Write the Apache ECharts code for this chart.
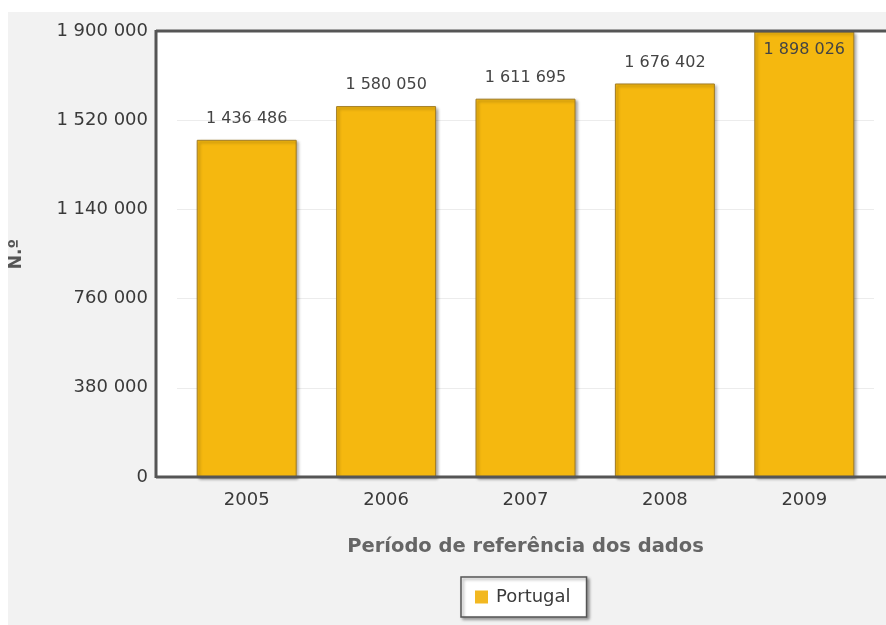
<!DOCTYPE html>
<html><head><meta charset="utf-8">
<script src="https://cdn.jsdelivr.net/npm/echarts@6/dist/echarts.min.js"></script>
<style>html,body{margin:0;padding:0;background:#fff}#c{width:886px;height:625px}</style>
</head><body><div id="c"></div>
<script>
const categories = ['2005','2006','2007','2008','2009'];
const portugal = [1436486, 1580050, 1611695, 1676402, 1898026];
const yTicks = [0, 380000, 760000, 1140000, 1520000, 1900000];
const seriesName = 'Portugal';
const xTitle = 'Período de referência dos dados';
const yTitle = 'N.º';

function fmt(v){ return String(v).replace(/\B(?=(\d{3})+(?!\d))/g, ' '); }

const chart = echarts.init(document.getElementById('c'));
const FONT = '"DejaVu Sans", Verdana, sans-serif';
const yMax = yTicks[yTicks.length-1];
const lastIdx = portugal.length-1;
chart.setOption({
  animation:false,
  textStyle:{fontFamily:FONT},
  graphic:[
    {type:'rect', z:-10, silent:true, shape:{x:8,y:12,width:878,height:613}, style:{fill:'#f2f2f2'}},
    {type:'rect', z:-9, silent:true, shape:{x:156,y:31,width:730,height:446}, style:{fill:'#ffffff'}},
    {type:'line', z:5, silent:true, shape:{x1:156,y1:31,x2:886,y2:31}, style:{stroke:'#555',lineWidth:3}},
    {type:'line', z:5, silent:true, shape:{x1:156,y1:30,x2:156,y2:478}, style:{stroke:'#555',lineWidth:3}},
    {type:'line', z:5, silent:true, shape:{x1:156,y1:477,x2:886,y2:477}, style:{stroke:'#555',lineWidth:3}}
  ],
  grid:{left:176, right:12, top:31, bottom:148},
  legend:{
    data:[seriesName], top:577, left:461,
    itemWidth:13, itemHeight:13, icon:'rect',
    itemStyle:{borderWidth:0, color:'#f2b821'},
    backgroundColor:'#fff', borderColor:'#555', borderWidth:1.5, borderRadius:0,
    padding:[11,16,11,14], itemGap:8,
    shadowColor:'rgba(0,0,0,0.35)', shadowBlur:3, shadowOffsetX:2, shadowOffsetY:2,
    textStyle:{fontSize:18, color:'#3a3a3a', fontFamily:FONT, padding:[0,0,0,3]}
  },
  xAxis:{
    type:'category', data:categories,
    axisLine:{show:false}, axisTick:{show:false},
    axisLabel:{fontSize:18, color:'#3a3a3a', margin:14, fontFamily:FONT},
    name:xTitle, nameLocation:'middle', nameGap:60,
    nameTextStyle:{fontSize:19.5, fontWeight:'bold', color:'#666', fontFamily:FONT}
  },
  yAxis:{
    type:'value', min:0, max:yMax, interval:yTicks[1]-yTicks[0], offset:20,
    axisLine:{show:false}, axisTick:{show:false},
    axisLabel:{fontSize:18, color:'#3a3a3a', margin:9, formatter:v=>fmt(v), fontFamily:FONT},
    splitLine:{lineStyle:{color:'#ececec', width:1}},
    name:yTitle, nameLocation:'middle', nameGap:132, nameRotate:90,
    nameTextStyle:{fontSize:17, fontWeight:'bold', color:'#555', fontFamily:FONT}
  },
  series:[{
    name:seriesName, type:'bar', barWidth:100,
    data:portugal.map((v,i)=>({value:v, label: i===lastIdx ? {position:'insideTop', distance:10} : {}})),
    itemStyle:{color:'#f5b80f', borderColor:'#a07c26', borderWidth:1,
      shadowColor:'rgba(0,0,0,0.35)', shadowBlur:3, shadowOffsetX:2, shadowOffsetY:2},
    label:{show:true, position:'top', distance:13, fontSize:16, color:'#444',
      fontFamily:FONT, formatter:p=>fmt(p.value)}
  }]
});
</script></body></html>
